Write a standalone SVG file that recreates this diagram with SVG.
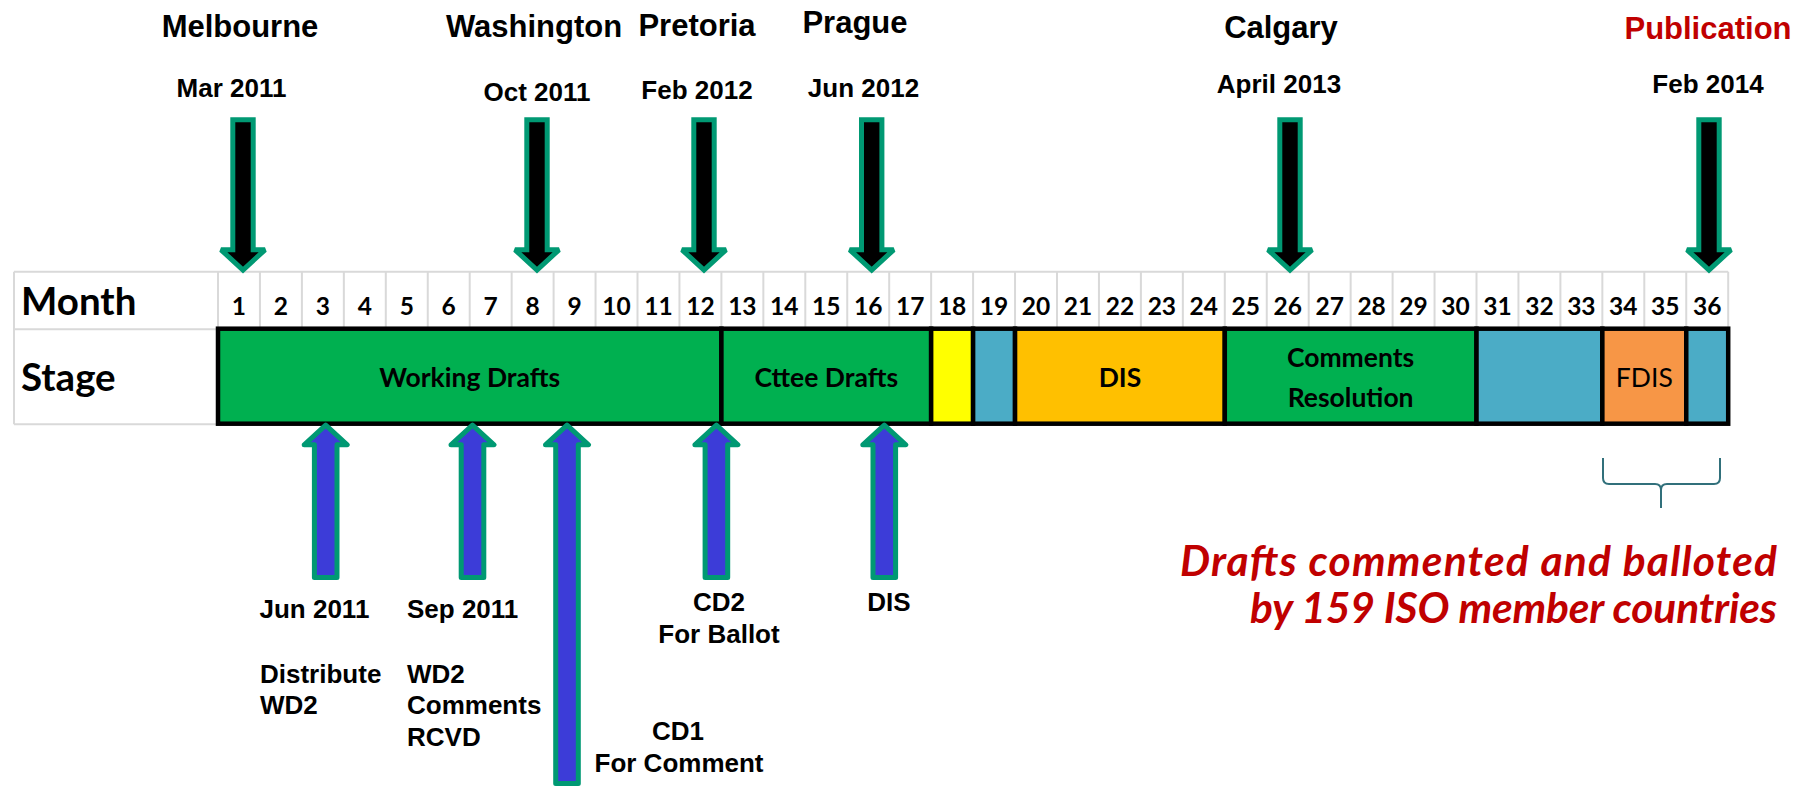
<svg xmlns="http://www.w3.org/2000/svg" xmlns:xlink="http://www.w3.org/1999/xlink" width="1809" height="786" viewBox="0 0 1809 786">
  <style>
    .city{font-family:"Liberation Sans",Arial,sans-serif;font-weight:bold;font-size:31px;text-anchor:middle;fill:#000}
    .date{font-family:"Liberation Sans",Arial,sans-serif;font-weight:bold;font-size:26px;text-anchor:middle;fill:#000}
    .lbl{font-family:"Liberation Sans",Arial,sans-serif;font-weight:bold;font-size:26px;fill:#000}
    .mid{text-anchor:middle}
    .hdr{font-family:Lato,"Liberation Sans",sans-serif;font-weight:bold;font-size:38.5px;fill:#000}
    .num{font-family:Lato,"Liberation Sans",sans-serif;font-weight:bold;font-size:24.5px;text-anchor:middle;fill:#000}
    .stg{font-family:Lato,"Liberation Sans",sans-serif;font-weight:bold;font-size:26.5px;text-anchor:middle;fill:#000}
    .reg{font-weight:normal}
    .note{font-family:Lato,"Liberation Sans",sans-serif;font-weight:bold;font-style:italic;font-size:42.5px;text-anchor:end;fill:#C00000}
    .grid{stroke:#D9D9D9;stroke-width:2;fill:none}
    .seg{stroke:#000;stroke-width:4.5}
    .green{fill:#00B050}
    .teal{fill:#4BACC6}
    .down{fill:#000;stroke:#009973;stroke-width:5;stroke-linejoin:miter;stroke-miterlimit:2}
    .up{fill:#3C3CD8;stroke:#009973;stroke-width:5;stroke-linejoin:round}
    .brace{fill:none;stroke:#31707B;stroke-width:2}
  </style>
  <defs>
    <!-- meeting marker: downward arrow, drawn around x=0 -->
    <path id="arrDown" d="M-10.2,119.8 H10.2 V249.8 H22 L0,270 L-22,249.8 H-10.2 Z"/>
    <!-- document marker: upward arrow from the stage bar -->
    <path id="arrUp" d="M0,425.2 L21.5,444.8 H11.3 V577.5 H-11.3 V444.8 H-21.5 Z"/>
    <path id="arrUpLong" d="M0,425.2 L21.5,444.8 H11.3 V783.5 H-11.3 V444.8 H-21.5 Z"/>
  </defs>

  <rect width="1809" height="786" fill="#fff"/>

  <!-- table grid -->
  <g id="grid">
    <path class="grid" d="M14,271.7 H1728.2 M14,329.3 H218 M14,424.3 H218 M14,271.7 V424.3"/>
    <path class="grid" d="M218,271.7V328.7 M259.95,271.7V328.7 M301.9,271.7V328.7 M343.85,271.7V328.7 M385.8,271.7V328.7 M427.75,271.7V328.7 M469.7,271.7V328.7 M511.65,271.7V328.7 M553.6,271.7V328.7 M595.55,271.7V328.7 M637.5,271.7V328.7 M679.45,271.7V328.7 M721.4,271.7V328.7 M763.35,271.7V328.7 M805.3,271.7V328.7 M847.25,271.7V328.7 M889.2,271.7V328.7 M931.15,271.7V328.7 M973.1,271.7V328.7 M1015.05,271.7V328.7 M1057,271.7V328.7 M1098.95,271.7V328.7 M1140.9,271.7V328.7 M1182.85,271.7V328.7 M1224.8,271.7V328.7 M1266.75,271.7V328.7 M1308.7,271.7V328.7 M1350.65,271.7V328.7 M1392.6,271.7V328.7 M1434.55,271.7V328.7 M1476.5,271.7V328.7 M1518.45,271.7V328.7 M1560.4,271.7V328.7 M1602.35,271.7V328.7 M1644.3,271.7V328.7 M1686.25,271.7V328.7 M1728.2,271.7V328.7"/>
    <text class="hdr" x="21" y="315">Month</text>
    <text class="hdr" x="21" y="391">Stage</text>
  </g>

  <!-- month numbers -->
  <g id="months">
    <text class="num" x="238.98" y="315">1</text>
    <text class="num" x="280.93" y="315">2</text>
    <text class="num" x="322.88" y="315">3</text>
    <text class="num" x="364.83" y="315">4</text>
    <text class="num" x="406.78" y="315">5</text>
    <text class="num" x="448.73" y="315">6</text>
    <text class="num" x="490.68" y="315">7</text>
    <text class="num" x="532.63" y="315">8</text>
    <text class="num" x="574.58" y="315">9</text>
    <text class="num" x="616.53" y="315">10</text>
    <text class="num" x="658.48" y="315">11</text>
    <text class="num" x="700.43" y="315">12</text>
    <text class="num" x="742.38" y="315">13</text>
    <text class="num" x="784.33" y="315">14</text>
    <text class="num" x="826.28" y="315">15</text>
    <text class="num" x="868.23" y="315">16</text>
    <text class="num" x="910.18" y="315">17</text>
    <text class="num" x="952.13" y="315">18</text>
    <text class="num" x="994.08" y="315">19</text>
    <text class="num" x="1036.03" y="315">20</text>
    <text class="num" x="1077.98" y="315">21</text>
    <text class="num" x="1119.93" y="315">22</text>
    <text class="num" x="1161.88" y="315">23</text>
    <text class="num" x="1203.83" y="315">24</text>
    <text class="num" x="1245.78" y="315">25</text>
    <text class="num" x="1287.73" y="315">26</text>
    <text class="num" x="1329.68" y="315">27</text>
    <text class="num" x="1371.63" y="315">28</text>
    <text class="num" x="1413.58" y="315">29</text>
    <text class="num" x="1455.53" y="315">30</text>
    <text class="num" x="1497.48" y="315">31</text>
    <text class="num" x="1539.43" y="315">32</text>
    <text class="num" x="1581.38" y="315">33</text>
    <text class="num" x="1623.33" y="315">34</text>
    <text class="num" x="1665.28" y="315">35</text>
    <text class="num" x="1707.23" y="315">36</text>
  </g>

  <!-- stage bar -->
  <g id="stage-working-drafts">
    <rect class="seg green" x="218" y="328.7" width="503.4" height="95"/>
    <text class="stg" x="469.7" y="387">Working Drafts</text>
  </g>
  <g id="stage-cttee-drafts">
    <rect class="seg green" x="721.4" y="328.7" width="209.75" height="95"/>
    <text class="stg" x="826.3" y="387">Cttee Drafts</text>
  </g>
  <g id="stage-m18">
    <rect class="seg" fill="#FFFF00" x="931.15" y="328.7" width="41.95" height="95"/>
  </g>
  <g id="stage-m19">
    <rect class="seg teal" x="973.1" y="328.7" width="41.95" height="95"/>
  </g>
  <g id="stage-dis">
    <rect class="seg" fill="#FFC000" x="1015.05" y="328.7" width="209.75" height="95"/>
    <text class="stg" x="1119.9" y="387">DIS</text>
  </g>
  <g id="stage-comments">
    <rect class="seg green" x="1224.8" y="328.7" width="251.7" height="95"/>
    <text class="stg" x="1350.6" y="367">Comments</text>
    <text class="stg" x="1350.6" y="407">Resolution</text>
  </g>
  <g id="stage-m31-33">
    <rect class="seg teal" x="1476.5" y="328.7" width="125.85" height="95"/>
  </g>
  <g id="stage-fdis">
    <rect class="seg" fill="#F79646" x="1602.35" y="328.7" width="83.9" height="95"/>
    <text class="stg reg" x="1644.3" y="387">FDIS</text>
  </g>
  <g id="stage-m36">
    <rect class="seg teal" x="1686.25" y="328.7" width="41.95" height="95"/>
  </g>

  <!-- meetings above the timeline -->
  <g id="meet-melbourne">
    <text class="city" x="240" y="37">Melbourne</text>
    <text class="date" x="231.5" y="97">Mar 2011</text>
    <use xlink:href="#arrDown" href="#arrDown" class="down" x="243"/>
  </g>
  <g id="meet-washington">
    <text class="city" x="534" y="37">Washington</text>
    <text class="date" x="537" y="101">Oct 2011</text>
    <use xlink:href="#arrDown" href="#arrDown" class="down" x="537"/>
  </g>
  <g id="meet-pretoria">
    <text class="city" x="697" y="36">Pretoria</text>
    <text class="date" x="697" y="99">Feb 2012</text>
    <use xlink:href="#arrDown" href="#arrDown" class="down" x="704"/>
  </g>
  <g id="meet-prague">
    <text class="city" x="855" y="33">Prague</text>
    <text class="date" x="863.5" y="97">Jun 2012</text>
    <use xlink:href="#arrDown" href="#arrDown" class="down" x="871.7"/>
  </g>
  <g id="meet-calgary">
    <text class="city" x="1281" y="38">Calgary</text>
    <text class="date" x="1279" y="93">April 2013</text>
    <use xlink:href="#arrDown" href="#arrDown" class="down" x="1290"/>
  </g>
  <g id="meet-publication">
    <text class="city" x="1708" y="39" style="fill:#C00000">Publication</text>
    <text class="date" x="1708" y="93">Feb 2014</text>
    <use xlink:href="#arrDown" href="#arrDown" class="down" x="1709"/>
  </g>

  <!-- document milestones below the timeline -->
  <g id="doc-distribute-wd2">
    <use xlink:href="#arrUp" href="#arrUp" class="up" x="325.7"/>
    <text class="lbl" x="259.5" y="618">Jun 2011</text>
    <text class="lbl" x="260" y="682.5">Distribute</text>
    <text class="lbl" x="260" y="714">WD2</text>
  </g>
  <g id="doc-wd2-comments">
    <use xlink:href="#arrUp" href="#arrUp" class="up" x="472.5"/>
    <text class="lbl" x="407" y="618">Sep 2011</text>
    <text class="lbl" x="407" y="682.5">WD2</text>
    <text class="lbl" x="407" y="714">Comments</text>
    <text class="lbl" x="407" y="746">RCVD</text>
  </g>
  <g id="doc-cd1">
    <use xlink:href="#arrUpLong" href="#arrUpLong" class="up" x="567"/>
    <text class="lbl mid" x="678" y="740">CD1</text>
    <text class="lbl mid" x="679" y="771.5">For Comment</text>
  </g>
  <g id="doc-cd2">
    <use xlink:href="#arrUp" href="#arrUp" class="up" x="716.4"/>
    <text class="lbl mid" x="719" y="611">CD2</text>
    <text class="lbl mid" x="719" y="643">For Ballot</text>
  </g>
  <g id="doc-dis">
    <use xlink:href="#arrUp" href="#arrUp" class="up" x="884.3"/>
    <text class="lbl mid" x="889" y="611">DIS</text>
  </g>

  <!-- brace over the FDIS span and its note -->
  <g id="connectors">
    <path class="brace" d="M1603,458 V478 Q1603,484 1609,484 H1655 Q1661,484 1661,490 V508 M1661,490 Q1661,484 1667,484 H1714 Q1720,484 1720,478 V458"/>
  </g>
  <g id="ballot-note">
    <text class="note" x="1777" y="576" textLength="597" lengthAdjust="spacing">Drafts commented and balloted</text>
    <text class="note" x="1777" y="623" textLength="527" lengthAdjust="spacing">by 159 ISO member countries</text>
  </g>
</svg>
